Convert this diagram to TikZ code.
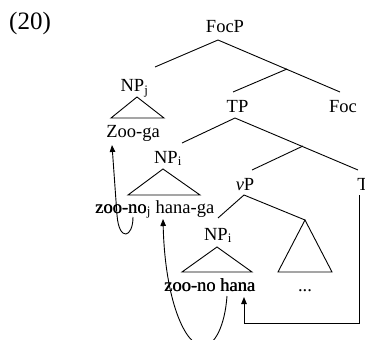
\documentclass[tikz,border=0pt]{standalone}
\usepackage{fontspec}
\setmainfont{Liberation Serif}
\usetikzlibrary{arrows.meta}
% text struck twice with a small offset (heavy print)
\newcommand\dbl[1]{\rlap{#1}\kern0.4pt#1}

\begin{document}
\begin{tikzpicture}[x=1pt,y=-1pt,
  lbl/.style={inner sep=0pt, anchor=base, font=\fontsize{18.5}{21}\selectfont},
  branch/.style={line width=0.9pt},
  tri/.style={line width=0.9pt, line join=miter},
  move/.style={line width=0.9pt, -{Triangle[length=7pt,width=5.5pt]}}]
\useasboundingbox (0,0) rectangle (365,340);
\clip (0,0) rectangle (365,340);

% example number
\node[lbl, anchor=base west, font=\fontsize{25}{29}\selectfont] (num) at (9,30) {(20)};

% labels
\node[lbl] (focp) at (225,33) {FocP};
\node[lbl] (npj)  at (134.5,92) {NP\textsubscript{j}};
\node[lbl] (zooga) at (133,137) {Zoo-ga};
\node[lbl] (tp)   at (237.5,112) {TP};
\node[lbl] (foc)  at (343,112) {Foc};
\node[lbl] (npi1) at (168,163) {NP\textsubscript{i}};
\node[lbl] (vp)   at (245,190) {\textit{v}P};
\node[lbl] (t)    at (363,190) {T};
\node[lbl, anchor=base west] (zoonoj) at (95,213) {\dbl{zoo-no}\textsubscript{j} hana-ga};
\node[lbl, anchor=base] (npi2) at (218,240) {NP\textsubscript{i}};
\node[lbl, anchor=base west] (zoonohana) at (164,291) {\dbl{zoo-no hana}};
\node[lbl] (dots) at (305,291) {...};

% branching points
\coordinate (focp-b) at (218,40);
\coordinate (npj-t)  at (155,67);
\coordinate (fbar)   at (287,69);
\coordinate (foc-t)  at (340,92);
\coordinate (tp-t)   at (233,92);
\coordinate (tp-b)   at (235,118);
\coordinate (npi1-t) at (182,143);
\coordinate (tbar)   at (303,146);
\coordinate (t-t)    at (358,170);
\coordinate (vp-t)   at (252,170);
\coordinate (vp-b)   at (244,195);
\coordinate (npi2-t) at (218,218);
\coordinate (vbar)   at (305,220);

% tree branches
\draw[branch] (npj-t) -- (focp-b) -- (foc-t);
\draw[branch] (fbar) -- (tp-t);
\draw[branch] (npi1-t) -- (tp-b) -- (t-t);
\draw[branch] (tbar) -- (vp-t);
\draw[branch] (npi2-t) -- (vp-b) -- (vbar);

% triangles
\draw[tri] (137,97) -- (111,118) -- (164,118) -- cycle;
\draw[tri] (163,169) -- (128,195) -- (200,195) -- cycle;
\draw[tri] (217,247) -- (182,272) -- (252,272) -- cycle;
\draw[tri] (vbar) -- (278,272) -- (332,272) -- cycle;

% movement arrows
\coordinate (m1s) at (133,217);
\coordinate (m1e) at (112,145);
\draw[move] (m1s) .. controls (133,238) and (119,242) .. (117,215) -- (m1e);

\coordinate (m2s) at (227,296);
\coordinate (m2e) at (163,219);
\draw[move] (m2s) .. controls (225,325) and (215,346) .. (203,346)
  .. controls (185,346) and (165,300) .. (m2e);

\coordinate (t-s)  at (359.5,195);
\coordinate (m3c1) at (359.5,323);
\coordinate (m3c2) at (244,323);
\coordinate (m3e)  at (244,297);
\draw[move] (t-s) -- (m3c1) -- (m3c2) -- (m3e);
\end{tikzpicture}
\end{document}
